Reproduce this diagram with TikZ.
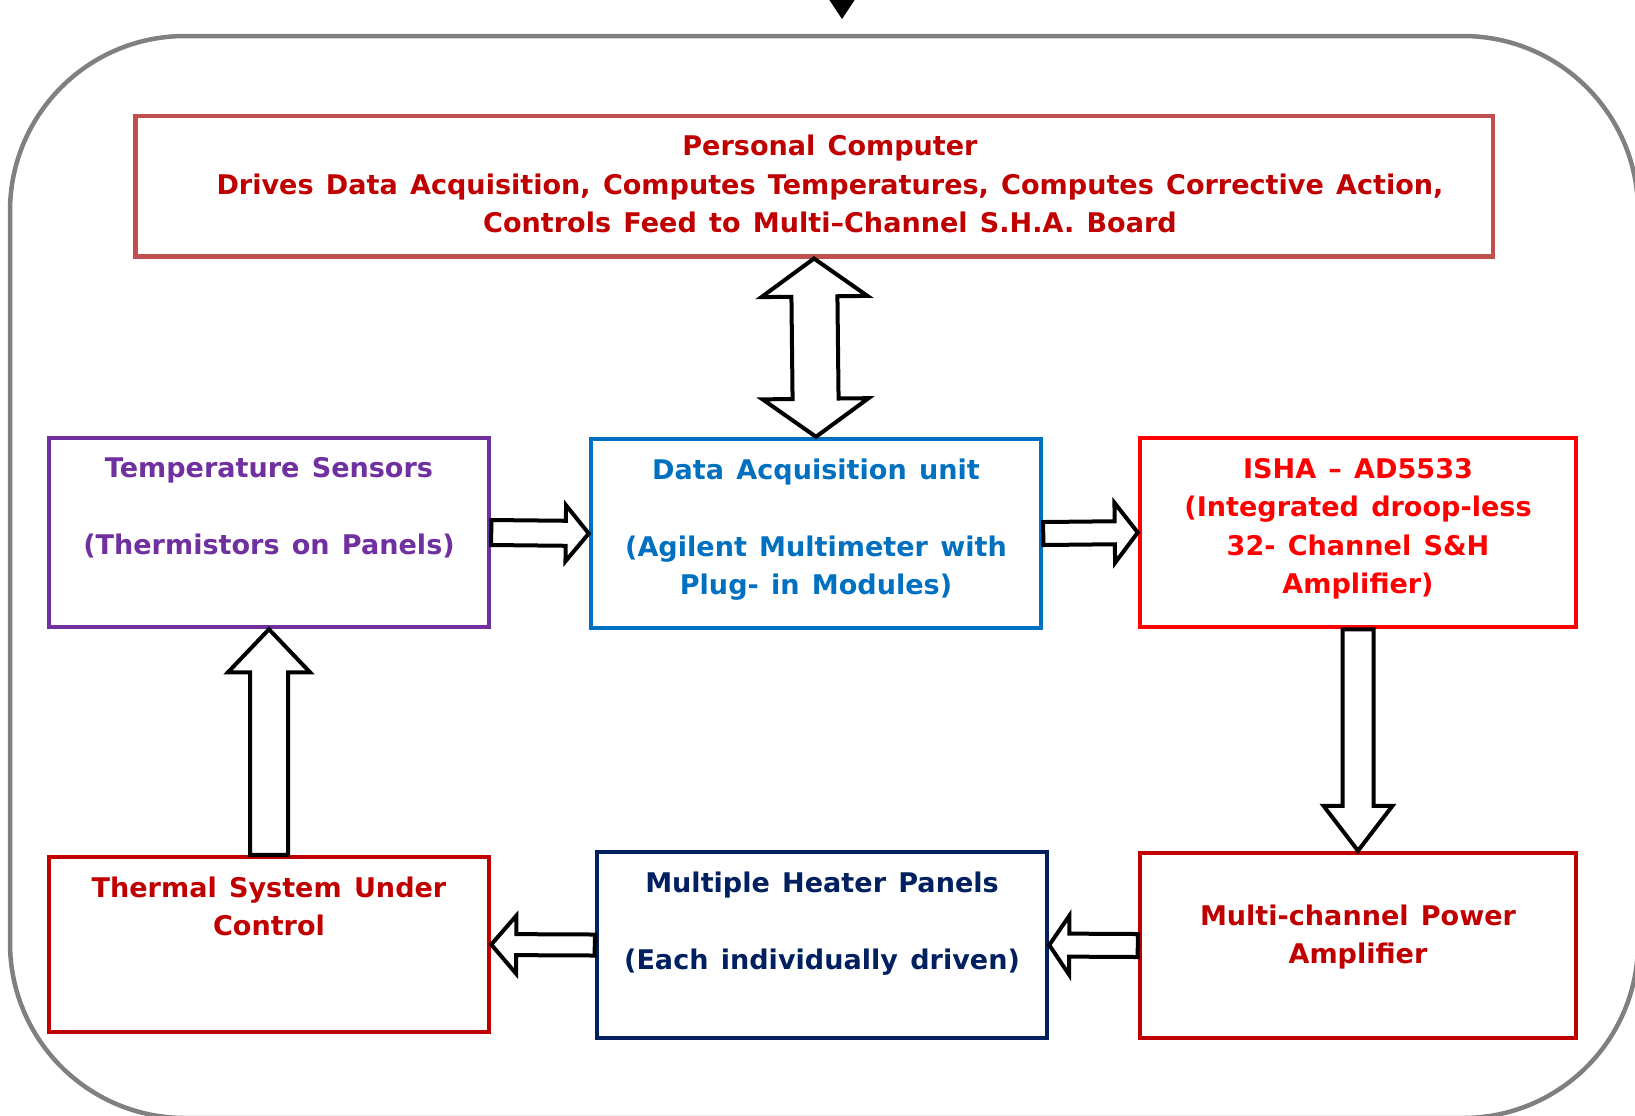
\documentclass[tikz,border=0pt]{standalone}
\usepackage{fontspec}
\setmainfont{DejaVu Sans}[WordSpace=1.3]
\usepackage{xcolor}
\usepackage{tikz}
\usetikzlibrary{positioning,calc}
\definecolor{SHAgray}{RGB}{128,128,128}
\definecolor{SHAbrick}{RGB}{192,80,77}
\definecolor{SHAdark}{RGB}{192,0,0}
\definecolor{SHApurple}{RGB}{112,48,160}
\definecolor{SHAblue}{RGB}{0,112,192}
\definecolor{SHAred}{RGB}{255,0,0}
\definecolor{SHAnavy}{RGB}{0,32,96}
\tikzstyle{frame} = [rectangle, draw=SHAgray, line width=0.45mm, rounded corners=17.5mm,
                     minimum width=162.8mm, minimum height=108.2mm]
\tikzstyle{pbox}  = [rectangle, draw, line width=0.45mm, inner sep=0pt,
                     minimum width=44mm, minimum height=18.9mm]
\tikzstyle{Bpc}   = [pbox, draw=SHAbrick, minimum width=135.75mm, minimum height=14.05mm]
\tikzstyle{Bts}   = [pbox, draw=SHApurple]
\tikzstyle{Bdaq}  = [pbox, draw=SHAblue, minimum width=45mm]
\tikzstyle{Bisha} = [pbox, draw=SHAred, minimum width=43.6mm]
\tikzstyle{Btsu}  = [pbox, draw=SHAdark, minimum height=17.5mm]
\tikzstyle{Bmhp}  = [pbox, draw=SHAnavy, minimum width=45mm, minimum height=18.6mm]
\tikzstyle{Bamp}  = [pbox, draw=SHAdark, minimum width=43.6mm, minimum height=18.5mm]
\tikzstyle{ptxt}  = [align=center, anchor=base, inner sep=0pt,
                     font=\bfseries\fontsize{7.7}{10.95}\selectfont]
\tikzstyle{harrow} = [draw=black, fill=white, line width=0.4mm, line join=miter]
\tikzset{
  hol/.style n args={3}{to path={
    ($(\tikztostart)!#1!90:(\tikztotarget)$)
    -- ($(\tikztotarget)!#3!(\tikztostart)!#1!-90:(\tikztostart)$)
    -- ($(\tikztotarget)!#3!(\tikztostart)!#2!-90:(\tikztostart)$)
    -- (\tikztotarget)
    -- ($(\tikztotarget)!#3!(\tikztostart)!#2!90:(\tikztostart)$)
    -- ($(\tikztotarget)!#3!(\tikztostart)!#1!90:(\tikztostart)$)
    -- ($(\tikztostart)!#1!-90:(\tikztotarget)$) -- cycle}},
  hol2/.style n args={3}{to path={
    ($(\tikztostart)!#3!(\tikztotarget)!#1!90:(\tikztotarget)$)
    -- ($(\tikztotarget)!#3!(\tikztostart)!#1!-90:(\tikztostart)$)
    -- ($(\tikztotarget)!#3!(\tikztostart)!#2!-90:(\tikztostart)$)
    -- (\tikztotarget)
    -- ($(\tikztotarget)!#3!(\tikztostart)!#2!90:(\tikztostart)$)
    -- ($(\tikztotarget)!#3!(\tikztostart)!#1!90:(\tikztostart)$)
    -- ($(\tikztostart)!#3!(\tikztotarget)!#1!-90:(\tikztotarget)$)
    -- ($(\tikztostart)!#3!(\tikztotarget)!#2!-90:(\tikztotarget)$)
    -- (\tikztostart)
    -- ($(\tikztostart)!#3!(\tikztotarget)!#2!90:(\tikztotarget)$) -- cycle}}
}
\begin{document}
\begin{tikzpicture}[x=0.1mm, y=-0.1mm]
  \useasboundingbox (0,0) rectangle (1635,1115);
  \node[frame] (frm) at (824,577) {};
  \fill (826,-5) -- (858,-5) -- (842,19) -- cycle;

  \node[Bpc]   (pc)   at (814,186)   {};
  \node[Bts]   (ts)   at (269,532.5) {};
  \node[Bdaq]  (daq)  at (816,533.5) {};
  \node[Bisha] (isha) at (1358,532.5) {};
  \node[Btsu]  (tsu)  at (269,944.5) {};
  \node[Bmhp]  (mhp)  at (822,945)   {};
  \node[Bamp]  (amp)  at (1358,945.5) {};

  \node[ptxt, text=SHAdark] (pct) at ([xshift=1.6mm, yshift=-11.9mm]pc.north)
    {Personal Computer\\Drives Data Acquisition, Computes Temperatures, Computes Corrective Action,\\Controls Feed to Multi–Channel S.H.A. Board};
  \node[ptxt, text=SHApurple] (tst) at ([yshift=-11.9mm]ts.north)
    {Temperature Sensors\\[3.85mm](Thermistors on Panels)};
  \node[ptxt, text=SHAblue] (daqt) at ([yshift=-15.8mm]daq.north)
    {Data Acquisition unit\\[3.8mm](Agilent Multimeter with\\Plug- in Modules)};
  \node[ptxt, text=SHAred] (ishat) at ([yshift=-15.8mm]isha.north)
    {ISHA – AD5533\\(Integrated droop-less\\32- Channel S\&H\\Amplifier)};
  \node[ptxt, text=SHAdark] (tsut) at ([yshift=-8.1mm]tsu.north)
    {Thermal System Under\\Control};
  \node[ptxt, text=SHAnavy] (mhpt) at ([yshift=-12.0mm]mhp.north)
    {Multiple Heater Panels\\[3.85mm](Each individually driven)};
  \node[ptxt, text=SHAdark] (ampt) at ([yshift=-11.3mm]amp.north)
    {Multi-channel Power\\Amplifier};

  \draw[harrow] (pc.south) to[hol2={2.3mm}{5.3mm}{3.8mm}] (daq.north);
  \draw[harrow] (ts.east) to[hol={1.25mm}{2.8mm}{2.3mm}] (daq.west);
  \draw[harrow] (daq.east) to[hol={1.15mm}{3.0mm}{2.3mm}] (isha.west);
  \draw[harrow] (tsu.north) to[hol={1.9mm}{4.1mm}{4.3mm}] (ts.south);
  \draw[harrow] (isha.south) to[hol={1.55mm}{3.45mm}{4.5mm}] (amp.north);
  \draw[harrow] (amp.west) to[hol={1.15mm}{2.95mm}{2.0mm}] (mhp.east);
  \draw[harrow] (mhp.west) to[hol={1.05mm}{2.9mm}{2.5mm}] (tsu.east);
\end{tikzpicture}
\end{document}
